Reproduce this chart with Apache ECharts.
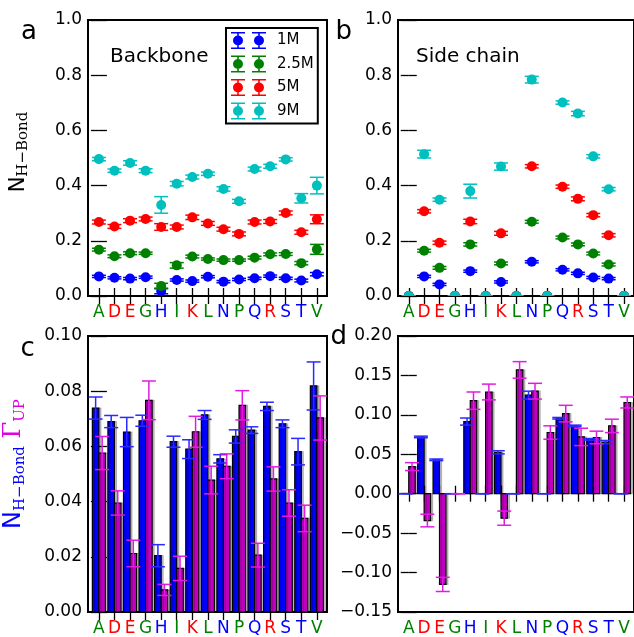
<!DOCTYPE html>
<html>
<head>
<meta charset="utf-8">
<script src="https://cdn.jsdelivr.net/npm/echarts@6/dist/echarts.min.js"></script>
<style>
  html, body { margin: 0; padding: 0; background: #fff; }
  #main { width: 634px; height: 637px; }
</style>
</head>
<body>
<div id="main"></div>
<script>
// amino acids and colour class of each tick label
var cats = ['A','D','E','G','H','I','K','L','N','P','Q','R','S','T','V'];
var catCol = ['g','r','r','g','b','g','r','g','b','g','b','r','b','b','g'];

// panel a: backbone
var bb1M   = [0.071,0.066,0.063,0.068,0.018,0.058,0.054,0.070,0.052,0.060,0.064,0.072,0.064,0.056,0.079];
var bb1Me  = [0.004,0.004,0.004,0.004,0.010,0.004,0.004,0.004,0.004,0.004,0.004,0.004,0.004,0.005,0.006];
var bb25M  = [0.168,0.144,0.155,0.155,0.036,0.111,0.143,0.134,0.130,0.130,0.139,0.151,0.152,0.119,0.169];
var bb25Me = [0.005,0.005,0.005,0.004,0.010,0.010,0.005,0.004,0.004,0.004,0.005,0.005,0.005,0.006,0.018];
var bb5M   = [0.268,0.252,0.273,0.279,0.250,0.250,0.285,0.263,0.242,0.225,0.268,0.270,0.301,0.231,0.278];
var bb5Me  = [0.007,0.007,0.007,0.007,0.012,0.007,0.008,0.007,0.007,0.007,0.007,0.007,0.007,0.007,0.016];
var bb9M   = [0.496,0.454,0.482,0.454,0.330,0.407,0.431,0.443,0.388,0.343,0.460,0.470,0.495,0.354,0.400];
var bb9Me  = [0.006,0.006,0.008,0.007,0.030,0.008,0.007,0.006,0.008,0.007,0.007,0.007,0.006,0.017,0.030];

// panel b: side chain
var sc1M   = [0,0.071,0.042,0,0.090,0,0.051,0,0.124,0,0.095,0.082,0.067,0.063,0];
var sc1Me  = [0,0.004,0.004,0,0.004,0,0.004,0,0.004,0,0.004,0.004,0.004,0.004,0];
var sc25M  = [0,0.164,0.102,0,0.187,0,0.118,0,0.269,0,0.212,0.187,0.154,0.114,0];
var sc25Me = [0,0.005,0.005,0,0.006,0,0.005,0,0.005,0,0.005,0.005,0.005,0.005,0];
var sc5M   = [0,0.307,0.193,0,0.270,0,0.227,0,0.470,0,0.396,0.352,0.293,0.220,0];
var sc5Me  = [0,0.006,0.006,0,0.008,0,0.007,0,0.006,0,0.006,0.007,0.006,0.006,0];
var sc9M   = [0,0.514,0.349,0,0.380,0,0.469,0,0.784,0,0.701,0.661,0.506,0.387,0];
var sc9Me  = [0,0.014,0.006,0,0.025,0,0.013,0,0.012,0,0.006,0.008,0.006,0.006,0];

// panel c: N_H-Bond (blue) and Gamma_UP (magenta), backbone
var cN   = [0.0739,0.0690,0.0652,0.0693,0.0204,0.0617,0.0590,0.0714,0.0555,0.0636,0.0659,0.0745,0.0682,0.0581,0.0819];
var cNe  = [0.0040,0.0022,0.0053,0.0020,0.0040,0.0020,0.0034,0.0016,0.0015,0.0024,0.0012,0.0015,0.0014,0.0048,0.0087];
var cG   = [0.0576,0.0395,0.0212,0.0767,0.0080,0.0158,0.0653,0.0478,0.0528,0.0749,0.0206,0.0482,0.0395,0.0339,0.0703];
var cGe  = [0.0060,0.0044,0.0048,0.0070,0.0020,0.0044,0.0056,0.0050,0.0045,0.0053,0.0043,0.0044,0.0048,0.0048,0.0080];

// panel d: side chain
var dN   = [0,0.072,0.043,0,0.0915,0,0.0525,0,0.125,0,0.0957,0.086,0.069,0.0655,0];
var dNe  = [0,0.001,0.001,0,0.0045,0,0.002,0,0.005,0,0.001,0.001,0.001,0.002,0];
var dG   = [0.0344,-0.034,-0.115,0,0.118,0.129,-0.031,0.157,0.130,0.0776,0.1016,0.072,0.0713,0.086,0.1157];
var dGe  = [0.005,0.008,0.009,0,0.011,0.010,0.009,0.0105,0.010,0.0085,0.0105,0.011,0.008,0.0085,0.007];

var FONT = 'DejaVu Sans';
var BLUE = '#0000ff', GREEN = '#008000', RED = '#ff0000', CYAN = '#00bfbf', MAG = '#bf00bf';
var idx = cats.map(function (c, i) { return i; });

// error bar marker for the legend (two points, as matplotlib draws them)
var ICON = 'path://M0,0H14V1.6H0Z M0,15.4H14V17H0Z M6.2,0H7.8V17H6.2Z M12,8.5A5,5 0 1 1 2,8.5A5,5 0 1 1 12,8.5Z ' +
           'M21,0H35V1.6H21Z M21,15.4H35V17H21Z M27.2,0H28.8V17H27.2Z M33,8.5A5,5 0 1 1 23,8.5A5,5 0 1 1 33,8.5Z';

function triples(v, e) {
  return v.map(function (y, i) { return [i, y, e[i]]; });
}

// vertical error bar with caps; off = shift in category widths, r = marker radius (0 = none)
function errRender(color, cap, off, r) {
  return function (params, api) {
    var i = api.value(0), v = api.value(1), e = api.value(2);
    var w = api.size([1, 0])[0];
    var x = api.coord([i, v])[0] + off * w;
    var yT = api.coord([i, v + e])[1], yB = api.coord([i, v - e])[1];
    var h = cap / 2, st = { stroke: color, lineWidth: 1.5 };
    var kids = [
      { type: 'line', shape: { x1: x, y1: yT, x2: x, y2: yB }, style: st },
      { type: 'line', shape: { x1: x - h, y1: yT, x2: x + h, y2: yT }, style: st },
      { type: 'line', shape: { x1: x - h, y1: yB, x2: x + h, y2: yB }, style: st }
    ];
    if (r) kids.push({ type: 'circle', shape: { cx: x, cy: api.coord([i, v])[1], r: r }, style: { fill: color } });
    return { type: 'group', children: kids };
  };
}

// bar from 0 to value; side -1 = left half, +1 = right half
function barRender(color, side) {
  return function (params, api) {
    var i = api.value(0), v = api.value(1);
    var w = api.size([1, 0])[0] * 0.42;
    var p = api.coord([i, v]), p0 = api.coord([i, 0]);
    var x0 = side < 0 ? p[0] - w : p[0];
    return { type: 'rect',
      shape: { x: x0, y: Math.min(p[1], p0[1]), width: w, height: Math.abs(p0[1] - p[1]) },
      style: { fill: color, stroke: '#000', lineWidth: 1.2,
               shadowColor: 'rgba(0,0,0,0.22)', shadowOffsetX: 2, shadowOffsetY: 0, shadowBlur: 0 } };
  };
}

function xAx(k, pos, withLabels) {
  return {
    type: 'value', gridIndex: k, position: pos, min: -0.7, max: 14.65,
    axisLine: { show: false }, splitLine: { show: false },
    axisTick: { show: true, inside: true, length: 8, customValues: idx, lineStyle: { color: '#000', width: 1.3 } },
    axisLabel: {
      show: withLabels, customValues: idx, margin: 8,
      formatter: function (v) { var i = Math.round(v); return '{' + catCol[i] + '|' + cats[i] + '}'; },
      rich: {
        g: { color: GREEN, fontSize: 17, fontFamily: FONT },
        r: { color: RED, fontSize: 17, fontFamily: FONT },
        b: { color: BLUE, fontSize: 17, fontFamily: FONT }
      }
    }
  };
}

function yAx(k, pos, min, max, step, dec, withLabels, extra) {
  var a = {
    type: 'value', gridIndex: k, position: pos, min: min, max: max, interval: step,
    axisLine: { show: false }, splitLine: { show: false },
    axisTick: { show: true, inside: true, length: 8, lineStyle: { color: '#000', width: 1.3 } },
    axisLabel: {
      show: withLabels, margin: 6, fontSize: 17, fontFamily: FONT, color: '#000',
      formatter: function (v) { if (Math.abs(v) < 1e-9) v = 0; return v.toFixed(dec).replace('-', '\u2212'); }
    }
  };
  for (var key in extra) a[key] = extra[key];
  return a;
}

var gridBox = { show: true, borderColor: '#000', borderWidth: 2, backgroundColor: 'transparent', containLabel: false };
var grids = [
  Object.assign({ left: 88, top: 20, width: 239, height: 276 }, gridBox),
  Object.assign({ left: 398, top: 20, width: 239, height: 276 }, gridBox),
  Object.assign({ left: 88, top: 336, width: 239, height: 277 }, gridBox),
  Object.assign({ left: 398, top: 336, width: 239, height: 278 }, gridBox)
];

var xAxes = [], yAxes = [];
for (var k = 0; k < 4; k++) {
  xAxes.push(xAx(k, 'bottom', true));
  xAxes.push(xAx(k, 'top', false));
}
var nameA = {
  name: '{n|N}{s|H\u2212Bond}', nameLocation: 'middle', nameRotate: 90, nameGap: 57,
  nameTextStyle: { padding: [0, 0, 0, 12], rich: {
    n: { fontFamily: FONT, fontSize: 21, color: '#000', lineHeight: 25 },
    s: { fontFamily: 'DejaVu Serif', fontSize: 15, color: '#000', lineHeight: 12, verticalAlign: 'bottom' }
  } }
};
var nameC = {
  name: '{n|N}{s|H\u2212Bond}{g| \u0393}{u|UP}', nameLocation: 'middle', nameRotate: 90, nameGap: 60,
  nameTextStyle: { padding: [0, 0, 0, 20], rich: {
    n: { fontFamily: FONT, fontSize: 24, color: BLUE, lineHeight: 28 },
    s: { fontFamily: 'DejaVu Serif', fontSize: 15, color: BLUE, lineHeight: 12, verticalAlign: 'bottom' },
    g: { fontFamily: 'DejaVu Serif', fontSize: 24, color: '#e000e0', lineHeight: 28 },
    u: { fontFamily: 'DejaVu Serif', fontSize: 15, color: '#e000e0', lineHeight: 12, verticalAlign: 'bottom' }
  } }
};
yAxes.push(yAx(0, 'left', 0, 1, 0.2, 1, true, nameA));
yAxes.push(yAx(0, 'right', 0, 1, 0.2, 1, false, {}));
yAxes.push(yAx(1, 'left', 0, 1, 0.2, 1, true, {}));
yAxes.push(yAx(1, 'right', 0, 1, 0.2, 1, false, {}));
yAxes.push(yAx(2, 'left', 0, 0.1, 0.02, 2, true, nameC));
yAxes.push(yAx(2, 'right', 0, 0.1, 0.02, 2, false, {}));
yAxes.push(yAx(3, 'left', -0.15, 0.2, 0.05, 2, true, {}));
yAxes.push(yAx(3, 'right', -0.15, 0.2, 0.05, 2, false, {}));

var series = [];
function pointPanel(k, list) {
  list.forEach(function (s) {
    series.push({ type: 'custom', name: s[0], xAxisIndex: 2 * k, yAxisIndex: 2 * k, clip: true,
      itemStyle: { color: s[3] },
      renderItem: errRender(s[3], 14, 0, 5), encode: { x: 0, y: 1 }, data: triples(s[1], s[2]) });
  });
}
pointPanel(0, [['1M', bb1M, bb1Me, BLUE], ['2.5M', bb25M, bb25Me, GREEN], ['5M', bb5M, bb5Me, RED], ['9M', bb9M, bb9Me, CYAN]]);
pointPanel(1, [['1M', sc1M, sc1Me, BLUE], ['2.5M', sc25M, sc25Me, GREEN], ['5M', sc5M, sc5Me, RED], ['9M', sc9M, sc9Me, CYAN]]);

function barPanel(k, nV, nE, gV, gE) {
  var ax = { xAxisIndex: 2 * k, yAxisIndex: 2 * k, clip: true, encode: { x: 0, y: 1 } };
  series.push(Object.assign({ type: 'custom', renderItem: barRender(BLUE, -1), data: triples(nV, nE) }, ax));
  series.push(Object.assign({ type: 'custom', renderItem: barRender(MAG, 1), data: triples(gV, gE) }, ax));
  series.push(Object.assign({ type: 'custom', renderItem: errRender('#2a2aff', 14, -0.21, 0), data: triples(nV, nE) }, ax));
  series.push(Object.assign({ type: 'custom', renderItem: errRender('#e21be2', 14, 0.21, 0), data: triples(gV, gE) }, ax));
}
barPanel(2, cN, cNe, cG, cGe);
barPanel(3, dN, dNe, dG, dGe);

function label(txt, x, y, size) {
  return { type: 'text', x: x, y: y, z: 10,
    style: { text: txt, fontFamily: FONT, fontSize: size, fill: '#000', verticalAlign: 'middle' } };
}

var chart = echarts.init(document.getElementById('main'), null, { renderer: 'canvas' });
chart.setOption({
  animation: false,
  backgroundColor: '#fff',
  textStyle: { fontFamily: FONT },
  grid: grids,
  xAxis: xAxes,
  yAxis: yAxes,
  legend: {
    data: ['1M', '2.5M', '5M', '9M'].map(function (n) { return { name: n, icon: ICON }; }),
    left: 226, top: 28, orient: 'vertical', selectedMode: false,
    itemWidth: 35, itemHeight: 17, itemGap: 6.5, padding: [4, 4, 4, 5],
    backgroundColor: '#fff', borderColor: '#000', borderWidth: 2, borderRadius: 0,
    itemStyle: { borderWidth: 0 },
    textStyle: { fontSize: 15, fontFamily: FONT, color: '#000', padding: [0, 0, 0, 6] }
  },
  graphic: [
    label('a', 21, 32, 26),
    label('b', 335.5, 32, 26),
    label('c', 20.5, 349, 26),
    label('d', 330.5, 337, 26),
    label('Backbone', 110, 57, 20),
    label('Side chain', 416, 57, 20)
  ],
  series: series
});
</script>
</body>
</html>
